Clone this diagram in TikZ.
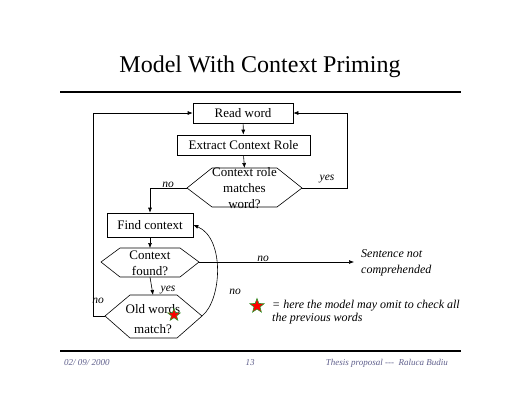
\documentclass[tikz,border=0pt]{standalone}
\usepackage{fontspec}
\setmainfont{Liberation Serif}
\usetikzlibrary{arrows.meta,shapes.geometric}
\definecolor{footc}{RGB}{95,95,140}
\definecolor{stargreen}{RGB}{40,150,40}
\begin{document}
\begin{tikzpicture}[x=1pt,y=-1pt,
  box/.style={draw,line width=0.6pt,inner sep=0pt,font=\fontsize{13}{15}\selectfont},
  txt/.style={inner sep=0pt,font=\fontsize{13}{15}\selectfont,align=center},
  lbl/.style={inner sep=0pt,font=\fontsize{11.5}{13}\selectfont\itshape,align=left},
  foot/.style={inner sep=0pt,font=\fontsize{9}{11}\selectfont\itshape,text=footc},
  ln/.style={line width=0.6pt},
  arr/.style={ln,-{Latex[length=5pt,width=4pt]}},
  starmark/.style={star,star points=5,star point ratio=2.4,fill=red,draw=stargreen,line width=0.6pt,inner sep=0pt}
]
\useasboundingbox (0,0) rectangle (520,402);
% title and rules
\node[inner sep=0pt,font=\fontsize{24}{28}\selectfont] (title) at (260,67) {Model With Context Priming};
\draw[line width=1.3pt] (60,92) -- (461,92);
\draw[line width=1.3pt] (60,351) -- (461,351);
% footer
\node[foot,anchor=west] (date) at (64,363) {02/ 09/ 2000};
\node[foot] (page) at (250,363) {13};
\node[foot,anchor=east] (auth) at (448,363) {Thesis proposal \mbox{-}\mbox{-}\mbox{-}\ \ Raluca Budiu};
% boxes
\node[box,minimum width=100pt,minimum height=20pt] (read) at (243,113) {Read word};
\node[box,minimum width=133pt,minimum height=20pt] (extract) at (243.5,145) {Extract Context Role};
\node[box,minimum width=86pt,minimum height=24pt] (find) at (150,225) {Find context};
% hexagon 1
\coordinate (h1l) at (187,188); \coordinate (h1r) at (302,188);
\coordinate (h1t) at (244.5,168); \coordinate (h1b) at (244.5,207);
\draw[ln] (h1l) -- (212,168) -- (277,168) -- (h1r) -- (277,207) -- (212,207) -- cycle;
\node[txt,font=\fontsize{13}{16}\selectfont] (h1) at (244.5,188.5) {Context role\\matches\\word?};
% hexagon 2
\coordinate (h2l) at (101,262); \coordinate (h2r) at (199,262);
\coordinate (h2t) at (150,248); \coordinate (h2b) at (150,277);
\draw[ln] (h2l) -- (120,248) -- (180,248) -- (h2r) -- (180,277) -- (120,277) -- cycle;
\node[txt,font=\fontsize{13}{16}\selectfont] (h2) at (150,263) {Context\\found?};
% hexagon 3
\coordinate (h3l) at (105,316); \coordinate (h3r) at (202,316);
\coordinate (h3t) at (153,295); \coordinate (h3b) at (153,338);
\draw[ln] (h3l) -- (130,295) -- (177,295) -- (h3r) -- (177,338) -- (130,338) -- cycle;
\node[txt,font=\fontsize{13}{20}\selectfont] (h3) at (153,319) {Old words\\match?};
\node[starmark,minimum size=13pt] (star1) at (174,315) {};
% connectors
\draw[arr] (read) -- (extract);
\draw[arr] (extract.south) -- (h1t);
\coordinate (c1) at (347,188); \coordinate (c2) at (347,113);
\draw[arr] (h1r) -- (c1) -- (c2) -- (read.east);
\coordinate (c3) at (150,188);
\draw[arr] (h1l) -- (c3) -- (find.north);
\draw[arr] (find.south) -- (h2t);
\draw[arr] (h2b) -- (h3t);
\coordinate (c4) at (93,316); \coordinate (c5) at (93,113);
\draw[arr] (h3l) -- (c4) -- (c5) -- (read.west);
\coordinate (sent) at (354,262);
\draw[arr] (h2r) -- (sent);
\draw[arr] (h3r) .. controls (222,300) and (225,238) .. (find.east);
% labels
\node[lbl] (yes1) at (327,179) {yes};
\node[lbl] (no1) at (168,185) {no};
\node[lbl] (yes2) at (168,290) {yes};
\node[lbl] (no2) at (98,301) {no};
\node[lbl] (no3) at (263,259) {no};
\node[lbl] (no4) at (235,292) {no};
\node[lbl,anchor=west,font=\fontsize{12}{16}\selectfont\itshape] (sentt) at (361,263) {Sentence not\\comprehended};
\node[starmark,minimum size=15pt] (star2) at (257,306) {};
\node[lbl,anchor=west,font=\fontsize{12}{13}\selectfont\itshape] (legend) at (272,312) {= here the model may omit to check all\\the previous words};
\end{tikzpicture}
\end{document}
